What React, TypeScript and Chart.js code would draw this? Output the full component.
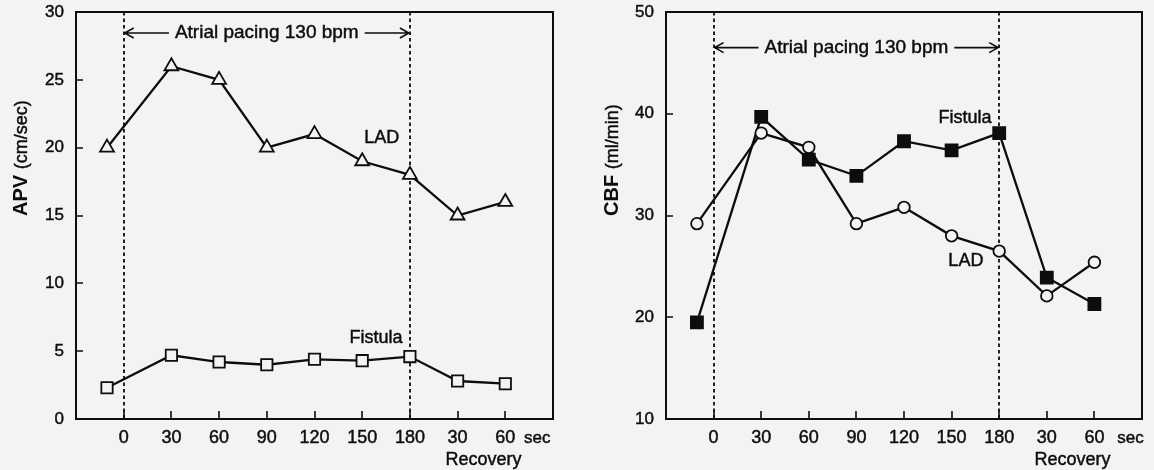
import React, { useEffect, useRef } from 'react';
import { Chart, registerables } from 'chart.js';

Chart.register(...registerables);

// ---------- data ----------
const timePoints = ['Pre', '30', '60', '90', '120', '150', '180', 'R30', 'R60'];
const xPositions = [-0.35, 1, 2, 3, 4, 5, 6, 7, 8];
const xTickValues = [0, 1, 2, 3, 4, 5, 6, 7, 8];
const xTickLabels = ['0', '30', '60', '90', '120', '150', '180', '30', '60'];

const apvLAD = [20, 26, 25, 20, 21, 19, 18, 15, 16];
const apvFistula = [2.3, 4.7, 4.2, 4.0, 4.4, 4.3, 4.6, 2.8, 2.6];
const apvTicks = [0, 5, 10, 15, 20, 25, 30];

const cbfFistula = [19.5, 39.7, 35.5, 33.9, 37.3, 36.4, 38.1, 23.9, 21.3];
const cbfLAD = [29.2, 38.1, 36.7, 29.2, 30.8, 28.0, 26.5, 22.1, 25.4];
const cbfTicks = [10, 20, 30, 40, 50];

const pacingStart = 0;
const pacingEnd = 6;
const pacingText = 'Atrial pacing 130 bpm';

// ---------- style ----------
const INK = '#0d0d0d';
const BG = '#f3f3f3';
const FF = '"Liberation Sans", Arial, Helvetica, sans-serif';
const TEXT_STROKE = 0.45;

const toPts = (vals: number[]) => vals.map((v, i) => ({ x: xPositions[i], y: v }));

const heavyText = (ctx: CanvasRenderingContext2D, t: string, x: number, y: number) => {
  ctx.fillText(t, x, y);
  ctx.lineWidth = TEXT_STROKE;
  ctx.strokeText(t, x, y);
};

const decorPlugin = {
  id: 'decor',
  beforeDatasetsDraw(chart: any, _a: any, o: any) {
    const { ctx, chartArea: ca, scales } = chart;
    const x = scales.x, y = scales.y;
    ctx.save();
    // dashed vertical lines
    ctx.strokeStyle = INK;
    ctx.lineWidth = 1.8;
    ctx.setLineDash([3.5, 3]);
    [pacingStart, pacingEnd].forEach((v) => {
      const px = Math.round(x.getPixelForValue(v));
      ctx.beginPath();
      ctx.moveTo(px, ca.top);
      ctx.lineTo(px, ca.bottom);
      ctx.stroke();
    });
    ctx.setLineDash([]);
    // annotation
    const ay = y.getPixelForValue(o.annotY);
    const x0 = x.getPixelForValue(pacingStart);
    const x1 = x.getPixelForValue(pacingEnd);
    const cx = (x0 + x1) / 2 + o.annotDx;
    ctx.font = `19px ${FF}`;
    ctx.fillStyle = INK;
    ctx.textAlign = 'center';
    ctx.textBaseline = 'middle';
    heavyText(ctx, pacingText, cx, ay);
    const tw = ctx.measureText(pacingText).width;
    const l1 = cx - tw / 2 - 6;
    const r1 = cx + tw / 2 + 6;
    ctx.lineWidth = 1.6;
    ctx.beginPath();
    ctx.moveTo(x0 + 1, ay);
    ctx.lineTo(l1, ay);
    ctx.moveTo(r1, ay);
    ctx.lineTo(x1 - 1, ay);
    // arrow heads
    ctx.moveTo(x0 + 10, ay - 5);
    ctx.lineTo(x0 + 1, ay);
    ctx.lineTo(x0 + 10, ay + 5);
    ctx.moveTo(x1 - 10, ay - 5);
    ctx.lineTo(x1 - 1, ay);
    ctx.lineTo(x1 - 10, ay + 5);
    ctx.stroke();
    ctx.restore();
  },
  afterDraw(chart: any, _a: any, o: any) {
    const { ctx, chartArea: ca, scales } = chart;
    const x = scales.x, y = scales.y;
    ctx.save();
    ctx.strokeStyle = INK;
    ctx.lineWidth = 2;
    ctx.strokeRect(ca.left, ca.top, ca.right - ca.left, ca.bottom - ca.top);
    ctx.lineWidth = 1.6;
    ctx.beginPath();
    xTickValues.forEach((v) => {
      const px = Math.round(x.getPixelForValue(v));
      ctx.moveTo(px, ca.bottom);
      ctx.lineTo(px, ca.bottom - 8);
    });
    y.ticks.forEach((t: any) => {
      const py = Math.round(y.getPixelForValue(t.value));
      ctx.moveTo(ca.left, py);
      ctx.lineTo(ca.left + 7, py);
    });
    ctx.stroke();
    // series labels
    ctx.fillStyle = INK;
    ctx.textAlign = 'center';
    ctx.textBaseline = 'middle';
    ctx.font = `18px ${FF}`;
    o.labels.forEach((l: any) => {
      heavyText(ctx, l.text, x.getPixelForValue(l.x), y.getPixelForValue(l.y));
    });
    // sec / Recovery
    ctx.font = `17px ${FF}`;
    heavyText(ctx, 'sec', x.getPixelForValue(8) + o.secDx, 438);
    ctx.font = `18px ${FF}`;
    heavyText(ctx, 'Recovery', x.getPixelForValue(7.5) + 2, 460);
    // y title rotated
    ctx.translate(o.titleX, o.titleBottom);
    ctx.rotate(-Math.PI / 2);
    ctx.textAlign = 'left';
    ctx.textBaseline = 'alphabetic';
    ctx.font = `bold 20px ${FF}`;
    ctx.fillText(o.titleBold, 0, 0);
    const bw = ctx.measureText(o.titleBold + ' ').width;
    ctx.font = `18px ${FF}`;
    heavyText(ctx, o.titleNormal, bw, 0);
    ctx.restore();
  },
};

type PanelCfg = {
  left: number;
  width: number;
  padRight: number;
  yMin: number;
  yMax: number;
  yTicks: number[];
  datasets: any[];
  decor: any;
};

function Panel({ cfg }: { cfg: PanelCfg }) {
  const ref = useRef<HTMLCanvasElement>(null);
  useEffect(() => {
    const chart = new Chart(ref.current as HTMLCanvasElement, {
      type: 'line',
      data: { datasets: cfg.datasets },
      options: {
        animation: false,
        responsive: false,
        maintainAspectRatio: false,
        devicePixelRatio: 1,
        layout: { padding: { left: 0, right: cfg.padRight, top: 12, bottom: 0 } },
        scales: {
          x: {
            type: 'linear',
            min: -1,
            max: 9,
            afterBuildTicks: (s: any) => {
              s.ticks = xTickValues.map((v) => ({ value: v }));
            },
            afterFit: (s: any) => {
              s.height = 470 - 419;
              s.paddingLeft = 0;
              s.paddingRight = 0;
            },
            grid: { display: false, drawTicks: false },
            border: { display: false },
            ticks: {
              autoSkip: false,
              maxRotation: 0,
              padding: 8,
              color: INK,
              textStrokeColor: INK,
              textStrokeWidth: TEXT_STROKE,
              font: { family: FF, size: 18 },
              callback: (_v: any, i: number) => xTickLabels[i],
            },
          },
          y: {
            type: 'linear',
            min: cfg.yMin,
            max: cfg.yMax,
            afterBuildTicks: (s: any) => {
              s.ticks = cfg.yTicks.map((v) => ({ value: v }));
            },
            afterFit: (s: any) => {
              s.width = 76;
              s.paddingTop = 0;
              s.paddingBottom = 0;
            },
            grid: { display: false, drawTicks: false },
            border: { display: false },
            ticks: {
              padding: 12,
              color: INK,
              textStrokeColor: INK,
              textStrokeWidth: TEXT_STROKE,
              font: { family: FF, size: 17 },
            },
          },
        },
        plugins: {
          legend: { display: false },
          tooltip: { enabled: false },
          decor: cfg.decor,
        } as any,
      },
      plugins: [decorPlugin],
    });
    return () => chart.destroy();
  }, []);
  return (
    <div style={{ position: 'absolute', left: cfg.left, top: 0, width: cfg.width, height: 470 }}>
      <canvas ref={ref} width={cfg.width} height={470} style={{ display: 'block', width: cfg.width, height: 470 }} />
    </div>
  );
}

const lineBase = {
  borderColor: INK,
  borderWidth: 2.3,
  tension: 0,
  pointBorderColor: INK,
  pointBorderWidth: 1.8,
  pointBackgroundColor: BG,
};

const leftCfg: PanelCfg = {
  left: 0,
  width: 590,
  padRight: 37,
  yMin: 0,
  yMax: 30,
  yTicks: apvTicks,
  datasets: [
    { ...lineBase, label: 'LAD', data: toPts(apvLAD), pointStyle: 'triangle', pointRadius: 8 },
    { ...lineBase, label: 'Fistula', data: toPts(apvFistula), pointStyle: 'rect', pointRadius: 8 },
  ],
  decor: {
    annotY: 28.45,
    annotDx: 0,
    secDx: 32,
    titleX: 27,
    titleBottom: 216,
    titleBold: 'APV',
    titleNormal: '(cm/sec)',
    labels: [
      { text: 'LAD', x: 5.41, y: 20.7 },
      { text: 'Fistula', x: 5.29, y: 6.0 },
    ],
  },
};

const rightCfg: PanelCfg = {
  left: 590,
  width: 564,
  padRight: 12,
  yMin: 10,
  yMax: 50,
  yTicks: cbfTicks,
  datasets: [
    { ...lineBase, label: 'LAD', data: toPts(cbfLAD), pointStyle: 'circle', pointRadius: 5.8 },
    {
      ...lineBase,
      label: 'Fistula',
      data: toPts(cbfFistula),
      pointStyle: 'rect',
      pointRadius: 8.5,
      pointBackgroundColor: INK,
    },
  ],
  decor: {
    annotY: 46.5,
    annotDx: 0,
    secDx: 36,
    titleX: 28,
    titleBottom: 216,
    titleBold: 'CBF',
    titleNormal: '(ml/min)',
    labels: [
      { text: 'Fistula', x: 5.28, y: 39.6 },
      { text: 'LAD', x: 5.3, y: 25.5 },
    ],
  },
};

export default function App() {
  return (
    <div style={{ position: 'absolute', left: 0, top: 0, width: 1154, height: 470, background: BG, overflow: 'hidden' }}>
      <Panel cfg={leftCfg} />
      <Panel cfg={rightCfg} />
    </div>
  );
}
